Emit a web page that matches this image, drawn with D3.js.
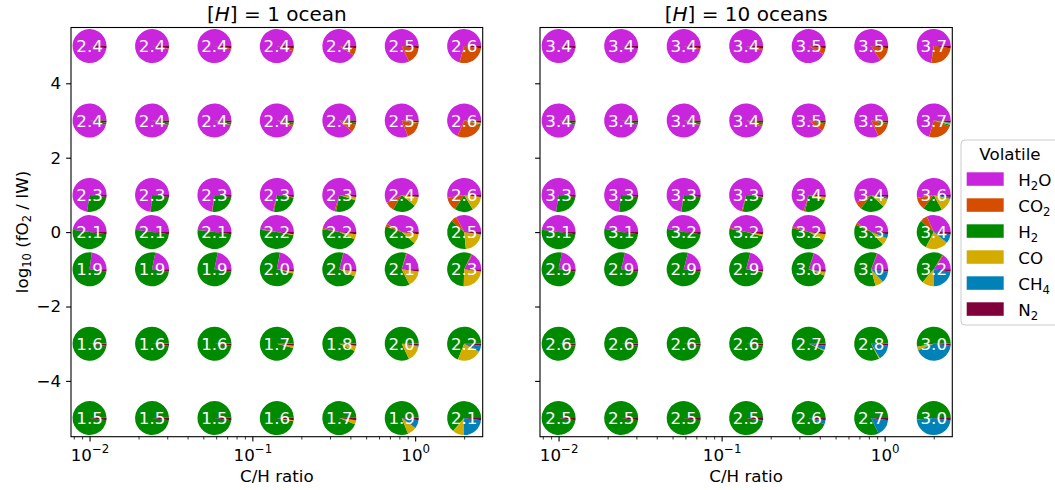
<!DOCTYPE html>
<html><head><meta charset="utf-8">
<script src="https://cdn.jsdelivr.net/npm/d3@7"></script>
<style>
body{margin:0;background:#fff;}
text{font-family:"DejaVu Sans",sans-serif;}
</style>
</head><body>
<svg id="c" width="1055" height="490"></svg>
<script>
// ---------- data ----------
const chRatio = [0.01, 0.0242, 0.0585, 0.1414, 0.342, 0.827, 2.0];
const logFO2 = [5, 3, 1, 0, -1, -3, -5];
const volatiles = ["H2O", "CO2", "H2", "CO", "CH4", "N2"];
const volatileColors = ["#c825dc", "#d54d00", "#008a00", "#d4ac00", "#0082b8", "#80003a"];
const panelTitles = ["1 ocean", "10 oceans"];
const yTicks = [-4, -2, 0, 2, 4];
const xMajorTicks = [0.01, 0.1, 1];
const xMinorTicks = [0.008, 0.009, 0.02, 0.03, 0.04, 0.05, 0.06, 0.07, 0.08, 0.09,
                     0.2, 0.3, 0.4, 0.5, 0.6, 0.7, 0.8, 0.9, 2];

// pie labels (rows follow logFO2, columns follow chRatio)
const labels_1ocean = [
  [2.4, 2.4, 2.4, 2.4, 2.4, 2.5, 2.6],
  [2.4, 2.4, 2.4, 2.4, 2.4, 2.5, 2.6],
  [2.3, 2.3, 2.3, 2.3, 2.3, 2.4, 2.6],
  [2.1, 2.1, 2.1, 2.2, 2.2, 2.3, 2.5],
  [1.9, 1.9, 1.9, 2.0, 2.0, 2.1, 2.3],
  [1.6, 1.6, 1.6, 1.7, 1.8, 2.0, 2.2],
  [1.5, 1.5, 1.5, 1.6, 1.7, 1.9, 2.1]];
const labels_10oceans = [
  [3.4, 3.4, 3.4, 3.4, 3.5, 3.5, 3.7],
  [3.4, 3.4, 3.4, 3.4, 3.5, 3.5, 3.7],
  [3.3, 3.3, 3.3, 3.3, 3.4, 3.4, 3.6],
  [3.1, 3.1, 3.2, 3.2, 3.2, 3.3, 3.4],
  [2.9, 2.9, 2.9, 2.9, 3.0, 3.0, 3.2],
  [2.6, 2.6, 2.6, 2.6, 2.7, 2.8, 3.0],
  [2.5, 2.5, 2.5, 2.5, 2.6, 2.7, 3.0]];

// volume mixing ratios, [H] = 1 ocean
const h2o_1ocean = [
  [0.985, 0.980, 0.975, 0.955, 0.915, 0.825, 0.710],
  [0.965, 0.960, 0.960, 0.945, 0.890, 0.815, 0.687],
  [0.730, 0.740, 0.730, 0.717, 0.708, 0.580, 0.530],
  [0.480, 0.480, 0.480, 0.470, 0.460, 0.420, 0.330],
  [0.230, 0.220, 0.220, 0.220, 0.210, 0.200, 0.170],
  [0.005, 0.005, 0.005, 0.005, 0.005, 0.005, 0.003],
  [0.003, 0.003, 0.003, 0.003, 0.003, 0.003, 0.002]];
const co2_1ocean = [
  [0.000, 0.005, 0.010, 0.030, 0.070, 0.160, 0.275],
  [0.000, 0.003, 0.005, 0.020, 0.075, 0.155, 0.270],
  [0.000, 0.002, 0.005, 0.010, 0.015, 0.085, 0.133],
  [0.000, 0.000, 0.002, 0.010, 0.015, 0.030, 0.055],
  [0.000, 0.000, 0.000, 0.002, 0.003, 0.008, 0.010],
  [0.000, 0.000, 0.000, 0.000, 0.000, 0.000, 0.000],
  [0.000, 0.000, 0.000, 0.000, 0.000, 0.000, 0.000]];
const h2_1ocean = [
  [0.000, 0.000, 0.000, 0.000, 0.000, 0.000, 0.000],
  [0.020, 0.022, 0.020, 0.020, 0.020, 0.010, 0.010],
  [0.255, 0.243, 0.250, 0.253, 0.232, 0.225, 0.178],
  [0.505, 0.505, 0.503, 0.495, 0.460, 0.440, 0.386],
  [0.757, 0.765, 0.765, 0.743, 0.722, 0.620, 0.570],
  [0.980, 0.980, 0.980, 0.960, 0.930, 0.820, 0.690],
  [0.982, 0.982, 0.982, 0.972, 0.942, 0.815, 0.640]];
const co_1ocean = [
  [0.000, 0.000, 0.000, 0.000, 0.000, 0.000, 0.000],
  [0.000, 0.000, 0.000, 0.000, 0.000, 0.005, 0.015],
  [0.000, 0.000, 0.000, 0.005, 0.030, 0.090, 0.145],
  [0.000, 0.000, 0.000, 0.010, 0.050, 0.095, 0.210],
  [0.000, 0.000, 0.000, 0.020, 0.050, 0.155, 0.235],
  [0.000, 0.000, 0.000, 0.020, 0.050, 0.150, 0.230],
  [0.000, 0.000, 0.000, 0.010, 0.040, 0.090, 0.110]];
const ch4_1ocean = [
  [0.000, 0.000, 0.000, 0.000, 0.000, 0.000, 0.000],
  [0.000, 0.000, 0.000, 0.000, 0.000, 0.000, 0.000],
  [0.000, 0.000, 0.000, 0.000, 0.000, 0.000, 0.000],
  [0.000, 0.000, 0.000, 0.000, 0.000, 0.000, 0.005],
  [0.000, 0.000, 0.000, 0.000, 0.000, 0.000, 0.000],
  [0.000, 0.000, 0.000, 0.000, 0.000, 0.010, 0.060],
  [0.000, 0.000, 0.000, 0.000, 0.000, 0.080, 0.235]];
const n2_1ocean = [
  [0.020, 0.020, 0.020, 0.020, 0.020, 0.020, 0.020],
  [0.020, 0.020, 0.020, 0.020, 0.020, 0.020, 0.020],
  [0.020, 0.020, 0.020, 0.020, 0.020, 0.020, 0.020],
  [0.020, 0.020, 0.020, 0.020, 0.020, 0.020, 0.020],
  [0.020, 0.020, 0.020, 0.020, 0.020, 0.020, 0.020],
  [0.020, 0.020, 0.020, 0.020, 0.020, 0.020, 0.020],
  [0.020, 0.020, 0.020, 0.020, 0.020, 0.020, 0.020]];

// volume mixing ratios, [H] = 10 oceans
const h2o_10oceans = [
  [0.985, 0.985, 0.975, 0.965, 0.925, 0.845, 0.730],
  [0.965, 0.965, 0.960, 0.945, 0.900, 0.820, 0.710],
  [0.730, 0.735, 0.730, 0.715, 0.705, 0.580, 0.530],
  [0.480, 0.470, 0.470, 0.460, 0.450, 0.410, 0.320],
  [0.220, 0.215, 0.210, 0.210, 0.200, 0.190, 0.155],
  [0.003, 0.003, 0.003, 0.003, 0.003, 0.003, 0.002],
  [0.002, 0.002, 0.002, 0.002, 0.002, 0.002, 0.001]];
const co2_10oceans = [
  [0.000, 0.000, 0.010, 0.020, 0.060, 0.140, 0.255],
  [0.000, 0.000, 0.005, 0.020, 0.070, 0.140, 0.240],
  [0.000, 0.000, 0.003, 0.010, 0.015, 0.070, 0.120],
  [0.000, 0.000, 0.000, 0.010, 0.015, 0.020, 0.070],
  [0.000, 0.000, 0.000, 0.002, 0.003, 0.005, 0.010],
  [0.000, 0.000, 0.000, 0.000, 0.000, 0.000, 0.000],
  [0.000, 0.000, 0.000, 0.000, 0.000, 0.000, 0.000]];
const h2_10oceans = [
  [0.000, 0.000, 0.000, 0.000, 0.000, 0.000, 0.000],
  [0.020, 0.020, 0.020, 0.020, 0.015, 0.015, 0.015],
  [0.255, 0.250, 0.252, 0.260, 0.235, 0.235, 0.185],
  [0.505, 0.515, 0.515, 0.495, 0.460, 0.445, 0.290],
  [0.765, 0.770, 0.775, 0.763, 0.752, 0.600, 0.475],
  [0.982, 0.982, 0.982, 0.982, 0.935, 0.830, 0.530],
  [0.983, 0.983, 0.983, 0.980, 0.945, 0.825, 0.515]];
const co_10oceans = [
  [0.000, 0.000, 0.000, 0.000, 0.000, 0.000, 0.000],
  [0.000, 0.000, 0.000, 0.000, 0.000, 0.005, 0.015],
  [0.000, 0.000, 0.000, 0.005, 0.030, 0.080, 0.130],
  [0.000, 0.000, 0.000, 0.020, 0.060, 0.070, 0.220],
  [0.000, 0.000, 0.000, 0.010, 0.030, 0.080, 0.115],
  [0.000, 0.000, 0.000, 0.000, 0.010, 0.010, 0.035],
  [0.000, 0.000, 0.000, 0.000, 0.000, 0.000, 0.000]];
const ch4_10oceans = [
  [0.000, 0.000, 0.000, 0.000, 0.000, 0.000, 0.000],
  [0.000, 0.000, 0.000, 0.000, 0.000, 0.000, 0.005],
  [0.000, 0.000, 0.000, 0.000, 0.000, 0.020, 0.020],
  [0.000, 0.000, 0.000, 0.000, 0.000, 0.040, 0.090],
  [0.000, 0.000, 0.000, 0.000, 0.010, 0.110, 0.230],
  [0.000, 0.000, 0.000, 0.000, 0.040, 0.145, 0.420],
  [0.000, 0.000, 0.000, 0.005, 0.040, 0.160, 0.470]];
const n2_10oceans = [
  [0.020, 0.020, 0.020, 0.020, 0.020, 0.020, 0.020],
  [0.020, 0.020, 0.020, 0.020, 0.020, 0.020, 0.020],
  [0.020, 0.020, 0.020, 0.020, 0.020, 0.020, 0.020],
  [0.020, 0.020, 0.020, 0.020, 0.020, 0.020, 0.020],
  [0.020, 0.020, 0.020, 0.020, 0.020, 0.020, 0.020],
  [0.020, 0.020, 0.020, 0.020, 0.020, 0.020, 0.020],
  [0.020, 0.020, 0.020, 0.020, 0.020, 0.020, 0.020]];

// ---------- drawing ----------
const panels = [
  {title: panelTitles[0], labels: labels_1ocean,
   fr: [h2o_1ocean, co2_1ocean, h2_1ocean, co_1ocean, ch4_1ocean, n2_1ocean],
   x0: 71, x1: 482.7, showY: true},
  {title: panelTitles[1], labels: labels_10oceans,
   fr: [h2o_10oceans, co2_10oceans, h2_10oceans, co_10oceans, ch4_10oceans, n2_10oceans],
   x0: 540, x1: 952.3, showY: false}
];

const svg = d3.select("#c");
const FS = 16.7;
const plotTop = 27.5, plotBottom = 436.7;
const yScale = d3.scaleLinear().domain([-5.5, 5.5]).range([plotBottom, plotTop]);
const pie = d3.pie().sort(null).startAngle(Math.PI / 2).endAngle(Math.PI / 2 - 2 * Math.PI);
const arc = d3.arc().innerRadius(0).outerRadius(17);

panels.forEach(p => {
  const x = d3.scaleLog().domain([chRatio[0] / 1.3, chRatio[chRatio.length - 1] * 1.3]).range([p.x0, p.x1]);
  const g = svg.append("g");

  // pies
  logFO2.forEach((fo, i) => {
    chRatio.forEach((ch, j) => {
      const vals = volatiles.map((v, k) => p.fr[k][i][j]);
      const pg = g.append("g").attr("transform", `translate(${x(ch)},${yScale(fo)})`);
      pg.selectAll("path").data(pie(vals)).join("path")
        .attr("d", arc).attr("fill", (d, k) => volatileColors[k]);
      pg.append("text").attr("text-anchor", "middle").attr("dy", "0.36em")
        .attr("fill", "#fff").attr("font-size", FS).text(p.labels[i][j].toFixed(1));
    });
  });

  // frame
  g.append("rect").attr("x", p.x0).attr("y", plotTop).attr("width", p.x1 - p.x0).attr("height", plotBottom - plotTop)
    .attr("fill", "none").attr("stroke", "#000").attr("stroke-width", 1.1);

  // y axis
  const ya = g.append("g").attr("transform", `translate(${p.x0},0)`)
    .call(d3.axisLeft(yScale).tickValues(yTicks).tickSize(4.9).tickPadding(4.9)
      .tickFormat(d => p.showY ? (d < 0 ? "\u2212" + Math.abs(d) : String(d)) : ""));
  ya.select(".domain").remove();
  ya.selectAll("line").attr("stroke", "#000").attr("stroke-width", 1.1);
  ya.selectAll("text").attr("font-size", FS).attr("fill", "#000")
    .attr("font-family", "DejaVu Sans, sans-serif");

  // x axis major
  const xa = g.append("g").attr("transform", `translate(0,${plotBottom})`)
    .call(d3.axisBottom(x).tickValues(xMajorTicks).tickSize(4.9).tickFormat(""));
  xa.select(".domain").remove();
  xa.selectAll("line").attr("stroke", "#000").attr("stroke-width", 1.1);
  xa.selectAll(".tick").each(function(d) {
    const e = Math.round(Math.log10(d));
    const t = d3.select(this).append("text").attr("fill", "#000")
      .attr("text-anchor", "middle").attr("y", 24.3).attr("font-size", FS)
      .attr("font-family", "DejaVu Sans, sans-serif");
    t.append("tspan").text("10");
    t.append("tspan").attr("dy", -7.5).attr("font-size", 11.8)
      .text(String(e).replace("-", "\u2212"));
  });
  // x axis minor
  const xm = g.append("g").attr("transform", `translate(0,${plotBottom})`)
    .call(d3.axisBottom(x).tickValues(xMinorTicks).tickSize(2.8).tickFormat(""));
  xm.select(".domain").remove();
  xm.selectAll("line").attr("stroke", "#000").attr("stroke-width", 0.8);

  // title
  const tt = g.append("text").attr("x", (p.x0 + p.x1) / 2).attr("y", 21)
    .attr("text-anchor", "middle").attr("font-size", 20).attr("fill", "#000");
  tt.append("tspan").text("[");
  tt.append("tspan").attr("font-style", "italic").text("H");
  tt.append("tspan").text("] = " + p.title);

  // x label
  g.append("text").attr("x", (p.x0 + p.x1) / 2).attr("y", 482)
    .attr("text-anchor", "middle").attr("font-size", FS).attr("fill", "#000").text("C/H ratio");
});

// y label
const yl = svg.append("text").attr("transform", "translate(28,232) rotate(-90)")
  .attr("text-anchor", "middle").attr("font-size", FS).attr("fill", "#000");
yl.append("tspan").text("log");
yl.append("tspan").attr("font-size", 11.5).attr("dy", 3).text("10");
yl.append("tspan").attr("dy", -3).text(" (fO");
yl.append("tspan").attr("font-size", 11.5).attr("dy", 3).text("2");
yl.append("tspan").attr("dy", -3).text(" / IW)");

// legend
const lg = svg.append("g");
lg.append("rect").attr("x", 961).attr("y", 140).attr("width", 110).attr("height", 185)
  .attr("rx", 4).attr("fill", "#fff").attr("fill-opacity", 0.8)
  .attr("stroke", "#cccccc").attr("stroke-width", 1);
lg.append("text").attr("x", 1010).attr("y", 160).attr("text-anchor", "middle")
  .attr("font-size", FS).attr("fill", "#000").text("Volatile");
const legendNames = [["H", "2", "O"], ["CO", "2", ""], ["H", "2", ""], ["CO", "", ""], ["CH", "4", ""], ["N", "2", ""]];
volatiles.forEach((v, k) => {
  const yy = 172.3 + k * 26;
  lg.append("rect").attr("x", 966.7).attr("y", yy).attr("width", 37).attr("height", 13.5)
    .attr("fill", volatileColors[k]);
  const t = lg.append("text").attr("x", 1018.3).attr("y", yy + 13.7)
    .attr("font-size", FS).attr("fill", "#000");
  const nm = legendNames[k];
  t.append("tspan").text(nm[0]);
  if (nm[1]) t.append("tspan").attr("font-size", 11.7).attr("dy", 3.5).text(nm[1]);
  if (nm[2]) t.append("tspan").attr("dy", -3.5).text(nm[2]);
});
</script>
</body></html>
